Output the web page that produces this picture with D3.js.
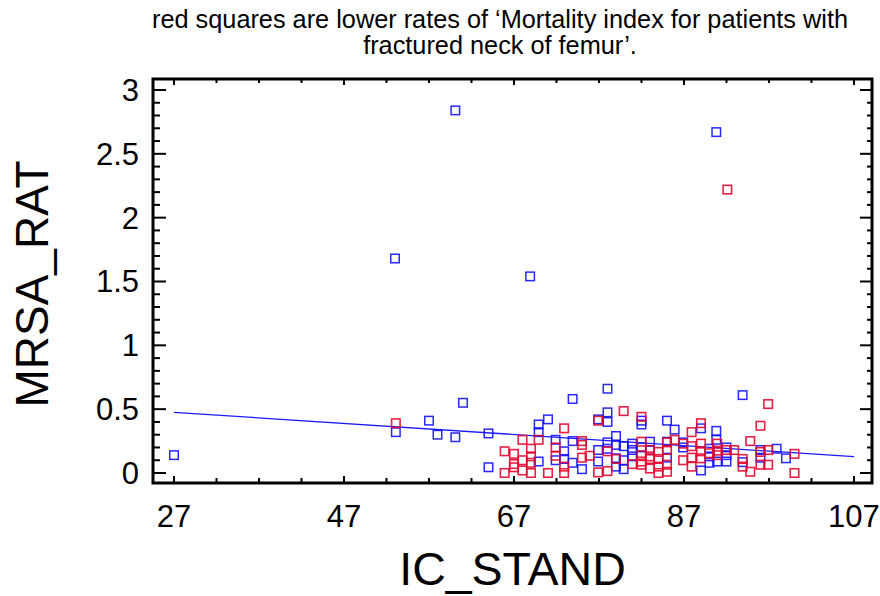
<!DOCTYPE html>
<html>
<head>
<meta charset="utf-8">
<script src="https://cdn.jsdelivr.net/npm/d3@7"></script>
<style>
  html, body { margin: 0; padding: 0; background: #fff; }
  svg { display: block; font-family: "Liberation Sans", Arial, Helvetica, sans-serif; }
</style>
</head>
<body>
<svg id="chart" width="880" height="596"></svg>
<script>
// ---- Data ----
const titleLines = ["red squares are lower rates of \u2018Mortality index for patients with", "fractured neck of femur\u2019."];
const xLabel = "IC_STAND";
const yLabel = "MRSA_RAT";
const xTicks = [27, 47, 67, 87, 107];
const yTicks = [0, 0.5, 1, 1.5, 2, 2.5, 3];
const yTickLabels = ["0", "0.5", "1", "1.5", "2", "2.5", "3"];

// blue squares
const blueX = [27.0, 60.1, 90.8, 53.0, 68.9, 61.0, 93.9, 78.0, 73.9, 53.1, 57.0, 58.0, 60.1, 64.0, 64.0,
  69.9, 69.9, 69.9, 71.0, 71.9, 72.9, 72.9, 73.9, 75.0, 76.9, 78.0, 78.0, 76.9, 76.9, 78.0,
  79.0, 79.0, 79.0, 79.9, 79.9, 79.9, 80.9, 80.9, 80.9, 82.0, 82.0, 83.0, 85.0, 85.0, 85.0,
  85.9, 86.9, 86.9, 89.0, 89.0, 90.0, 90.0, 90.0, 90.8, 90.8, 90.9, 92.0, 92.0, 92.0, 93.9,
  96.0, 96.0, 97.9, 99.0, 79.0, 83.0, 78.0, 71.9, 73.9, 82.0];
const blueY = [0.14, 2.84, 2.67, 1.68, 1.54, 0.55, 0.61, 0.66, 0.58, 0.32, 0.41, 0.30, 0.28, 0.31, 0.045,
  0.09, 0.38, 0.32, 0.42, 0.26, 0.17, 0.11, 0.25, 0.03, 0.42, 0.475, 0.40, 0.18, 0.09, 0.24,
  0.29, 0.22, 0.05, 0.21, 0.10, 0.03, 0.23, 0.18, 0.13, 0.41, 0.20, 0.245, 0.41, 0.245, 0.12,
  0.34, 0.24, 0.20, 0.35, 0.02, 0.19, 0.13, 0.08, 0.33, 0.26, 0.09, 0.20, 0.14, 0.09, 0.085,
  0.18, 0.12, 0.19, 0.115, 0.115, 0.18, 0.19, 0.10, 0.08, 0.38];

// red squares
const redX = [92.1, 96.9, 53.1, 65.9, 65.9, 67.0, 67.0, 68.0, 68.0, 68.0, 69.0, 69.0, 69.0, 69.0, 69.9,
  71.0, 72.9, 71.9, 71.9, 72.9, 72.9, 75.0, 75.0, 75.0, 75.9, 76.9, 76.9, 78.0, 78.0, 79.0,
  79.9, 80.9, 82.0, 82.0, 82.0, 82.0, 83.0, 83.0, 83.0, 84.0, 84.0, 84.0, 84.0, 85.0, 85.0,
  85.0, 85.0, 85.9, 86.9, 86.9, 87.9, 87.9, 87.9, 87.9, 89.0, 89.0, 89.0, 89.0, 90.0, 90.9,
  90.9, 90.9, 92.0, 92.9, 93.9, 93.9, 94.8, 94.8, 96.0, 96.0, 96.0, 96.9, 96.9, 100.0, 100.0,
  67.0, 82.0, 83.0];
const redY = [2.22, 0.54, 0.39, 0.17, 0.00, 0.15, 0.07, 0.26, 0.10, 0.02, 0.19, 0.13, 0.08, 0.00, 0.26,
  0.00, 0.35, 0.20, 0.135, 0.05, 0.00, 0.25, 0.22, 0.12, 0.135, 0.41, 0.005, 0.17, 0.015, 0.11,
  0.485, 0.07, 0.44, 0.245, 0.14, 0.065, 0.18, 0.11, 0.035, 0.165, 0.11, 0.05, 0.00, 0.24, 0.18,
  0.065, 0.01, 0.26, 0.23, 0.10, 0.32, 0.21, 0.12, 0.05, 0.39, 0.23, 0.17, 0.115, 0.155, 0.23,
  0.175, 0.14, 0.18, 0.18, 0.11, 0.05, 0.25, 0.01, 0.37, 0.165, 0.065, 0.18, 0.065, 0.15, 0.00,
  0.045, 0.09, 0.13];

// fitted regression line end points
const fitX = [27, 107];
const fitY = [0.475, 0.128];

// ---- Layout ----
const svg = d3.select("#chart");
const pL = 153, pR = 872, pT = 79, pB = 483;

const x = d3.scaleLinear().domain([24.53, 109.12]).range([pL, pR]);
const y = d3.scaleLinear().domain([-0.0783, 3.086]).range([pB, pT]);

const xMinor = d3.range(27, 108, 5).filter(v => !xTicks.includes(v));
const yMinor = d3.range(0, 31).map(i => i / 10).filter(v => Math.abs(v * 2 - Math.round(v * 2)) > 1e-6);

// title
svg.append("g").selectAll("text").data(titleLines).join("text")
  .attr("x", 500).attr("y", (d, i) => 28 + i * 26)
  .attr("text-anchor", "middle").attr("font-size", 25.3).attr("fill", "#000")
  .text(d => d);

// ticks (inward, on all four sides)
const tg = svg.append("g").attr("stroke", "#000").attr("stroke-width", 2);
function vTicks(cls, data, y0, len) {
  tg.selectAll("." + cls).data(data).join("line").attr("class", cls)
    .attr("x1", d => x(d)).attr("x2", d => x(d)).attr("y1", y0).attr("y2", y0 + len);
}
function hTicks(cls, data, x0, len) {
  tg.selectAll("." + cls).data(data).join("line").attr("class", cls)
    .attr("y1", d => y(d)).attr("y2", d => y(d)).attr("x1", x0).attr("x2", x0 + len);
}
vTicks("xb", xTicks, pB, -7);
vTicks("xbm", xMinor, pB, -5);
vTicks("xt", xTicks, pT, 6);
vTicks("xtm", xMinor, pT, 4);
hTicks("yl", yTicks, pL, 13);
hTicks("ylm", yMinor, pL, 7);
hTicks("yr", yTicks, pR, -12);
hTicks("yrm", yMinor, pR, -5);

// frame
svg.append("rect").attr("x", pL).attr("y", pT)
  .attr("width", pR - pL).attr("height", pB - pT)
  .attr("fill", "none").attr("stroke", "#000").attr("stroke-width", 3);

// tick labels
svg.append("g").selectAll("text").data(xTicks).join("text")
  .attr("x", d => x(d)).attr("y", 527).attr("text-anchor", "middle")
  .attr("font-size", 31).text(d => d);
svg.append("g").selectAll("text").data(yTicks).join("text")
  .attr("x", 139).attr("y", d => y(d)).attr("dy", "0.35em").attr("text-anchor", "end")
  .attr("font-size", 31).text((d, i) => yTickLabels[i]);

// axis titles
svg.append("text").attr("x", 512.5).attr("y", 585).attr("text-anchor", "middle")
  .attr("font-size", 46.5).text(xLabel);
svg.append("text").attr("transform", "translate(48,284) rotate(-90)")
  .attr("text-anchor", "middle").attr("font-size", 46).text(yLabel);

// regression line
svg.append("line")
  .attr("x1", x(fitX[0])).attr("y1", y(fitY[0]))
  .attr("x2", x(fitX[1])).attr("y2", y(fitY[1]))
  .attr("stroke", "#1a1aff").attr("stroke-width", 1.3);

// points
const sq = 8.5;
const blue = blueX.map((v, i) => ({ x: v, y: blueY[i] }));
const red = redX.map((v, i) => ({ x: v, y: redY[i] }));
svg.append("g").selectAll("rect").data(blue).join("rect")
  .attr("x", d => x(d.x) - sq / 2).attr("y", d => y(d.y) - sq / 2)
  .attr("width", sq).attr("height", sq)
  .attr("fill", "none").attr("stroke", "#1010ff").attr("stroke-width", 1.5).attr("stroke-opacity", 0.9);
svg.append("g").selectAll("rect").data(red).join("rect")
  .attr("x", d => x(d.x) - sq / 2).attr("y", d => y(d.y) - sq / 2)
  .attr("width", sq).attr("height", sq)
  .attr("fill", "none").attr("stroke", "#e4002a").attr("stroke-width", 1.6).attr("stroke-opacity", 0.88);
</script>
</body>
</html>
